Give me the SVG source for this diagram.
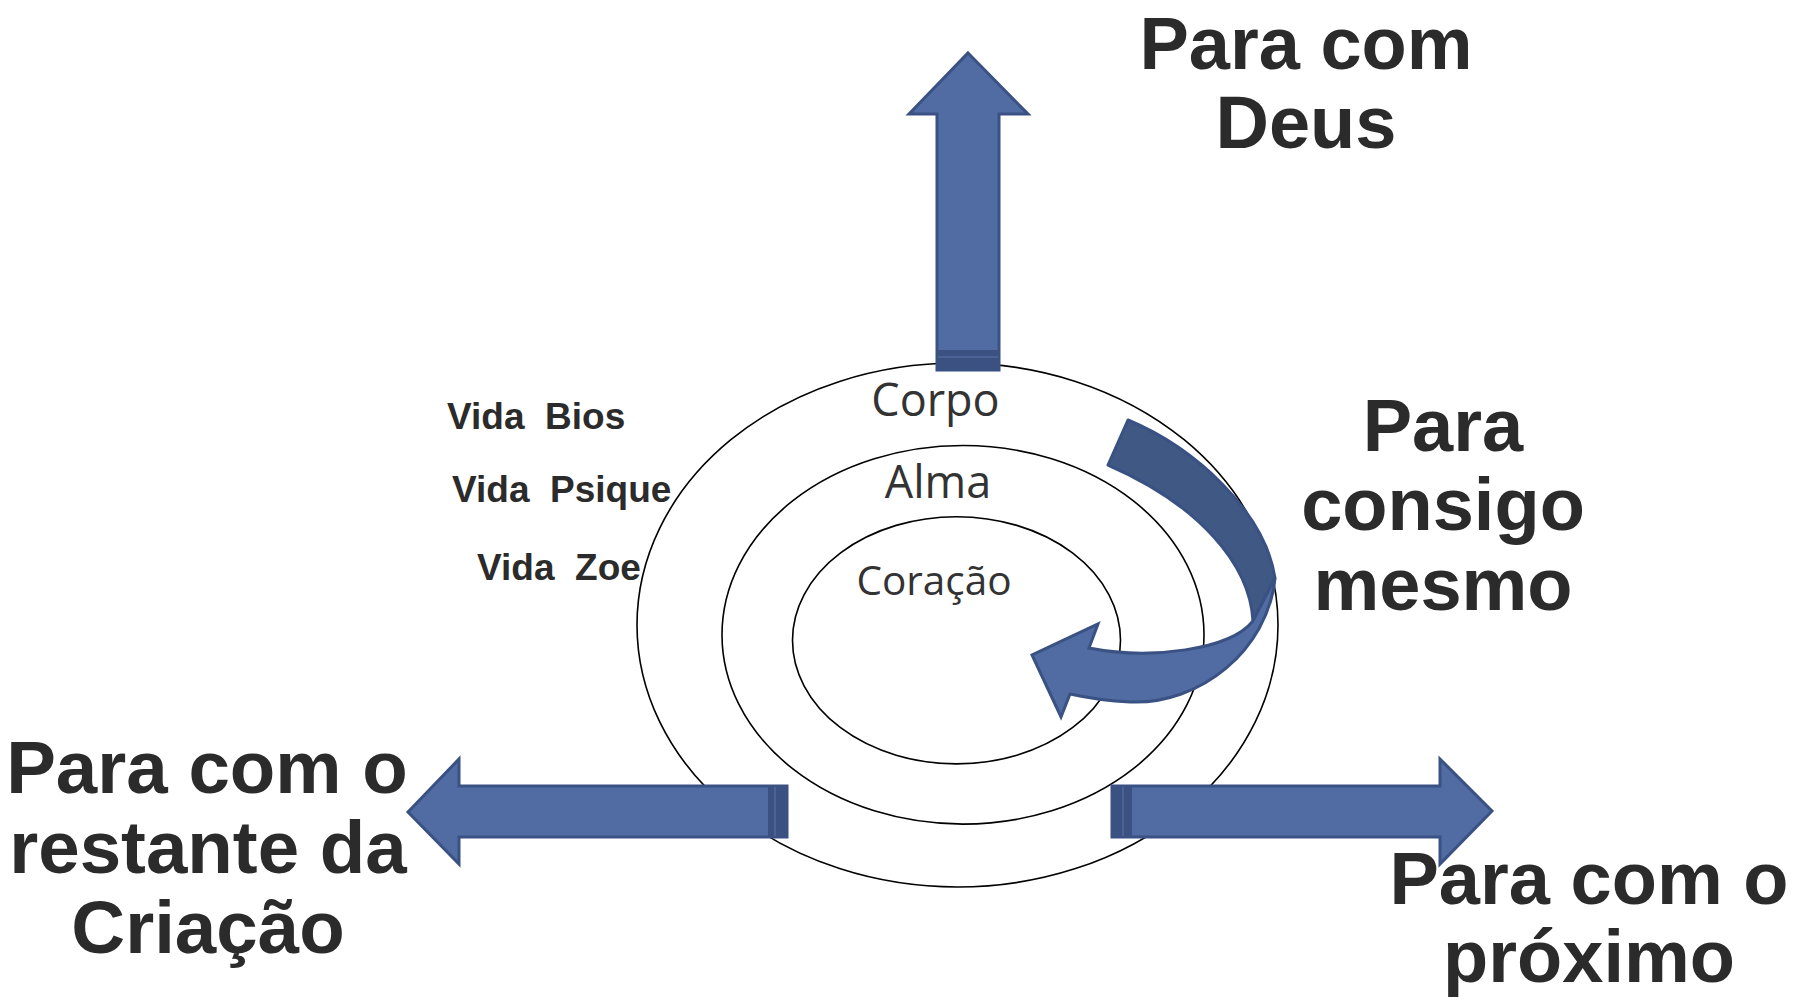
<svg xmlns="http://www.w3.org/2000/svg" width="1805" height="1002" viewBox="0 0 1805 1002">
<style>
.ring{fill:none;stroke:#000;stroke-width:1.6}
.arr{fill:#506CA2;stroke:#3A5183;stroke-width:3;stroke-linejoin:miter}
.band{fill:#3B5182}
.bandline{stroke:#5A75A8;stroke-width:1}
.big{font-family:"Liberation Sans",Arial,sans-serif;font-weight:bold;fill:#2B2B2B;text-anchor:middle}
.vida{font-family:"Liberation Sans",Arial,sans-serif;font-weight:bold;fill:#2B2B2B;font-size:37px}
.lay{font-family:"Open Sans","Noto Sans",sans-serif;fill:#333;text-anchor:middle}
</style>
<rect width="1805" height="1002" fill="#fff"/>
<g id="rings">
<ellipse id="ring-corpo" class="ring" cx="957.5" cy="625" rx="320.5" ry="262"/>
<ellipse id="ring-alma" class="ring" cx="963" cy="634.8" rx="241" ry="189.3"/>
<ellipse id="ring-coracao" class="ring" cx="956.5" cy="640.3" rx="164" ry="123.6"/>
</g>
<g id="labels-inner">
<text class="lay" x="935.5" y="416" font-size="45">Corpo</text>
<text class="lay" x="938" y="498" font-size="45">Alma</text>
<text class="lay" x="934" y="595" font-size="40.5">Coração</text>
</g>
<g id="labels-vida">
<text class="vida" x="447" y="429">Vida&#160; Bios</text>
<text class="vida" x="452" y="502">Vida&#160; Psique</text>
<text class="vida" x="477" y="580">Vida&#160; Zoe</text>
</g>
<g id="connectors">
<g id="arrow-deus">
<polygon class="arr" points="968,53 1028,114 999,114 999,370 937,370 937,114 909,114"/>
<rect class="band" x="936" y="350" width="64" height="21"/>
<line class="bandline" x1="938" y1="357" x2="998" y2="357"/>
</g>
<g id="arrow-criacao">
<polygon class="arr" points="408,812 459,759 459,786 787,786 787,837 459,837 459,864"/>
<rect class="band" x="768" y="785" width="20" height="53"/>
<line class="bandline" x1="775" y1="787" x2="775" y2="836"/>
</g>
<g id="arrow-proximo">
<polygon class="arr" points="1112,786 1440,786 1440,759 1492,811 1440,864 1440,837 1112,837"/>
<rect class="band" x="1111" y="785" width="21" height="53"/>
<line class="bandline" x1="1123" y1="787" x2="1123" y2="836"/>
</g>
<g id="arrow-consigo">
<path d="M1128,420 C1195,448 1265,512 1275,578 L1253,621 C1250,565 1200,505 1108,465 Z" fill="#3F5884" stroke="#3A5183" stroke-width="3" stroke-linejoin="round"/>
<path d="M1275,578 C1268,650 1200,705 1130,702 C1108,701 1088,698 1070,694 L1061,717 L1032,655 L1098,624 L1089,648 C1150,660 1230,650 1253,621 Z" fill="#506CA2" stroke="#3A5183" stroke-width="3" stroke-linejoin="miter"/>
</g>
</g>
<g id="titles">
<text class="big" font-size="74"><tspan x="1306" y="69">Para com</tspan><tspan x="1306" y="148">Deus</tspan></text>
<text class="big" font-size="74"><tspan x="1443" y="451">Para</tspan><tspan x="1443" y="530">consigo</tspan><tspan x="1443" y="610">mesmo</tspan></text>
<text class="big" font-size="74.5"><tspan x="207" y="793">Para com o</tspan><tspan x="208" y="873">restante da</tspan><tspan x="208" y="953">Criação</tspan></text>
<text class="big" font-size="74"><tspan x="1589" y="904">Para com o</tspan><tspan x="1589" y="982">próximo</tspan></text>
</g>
</svg>
